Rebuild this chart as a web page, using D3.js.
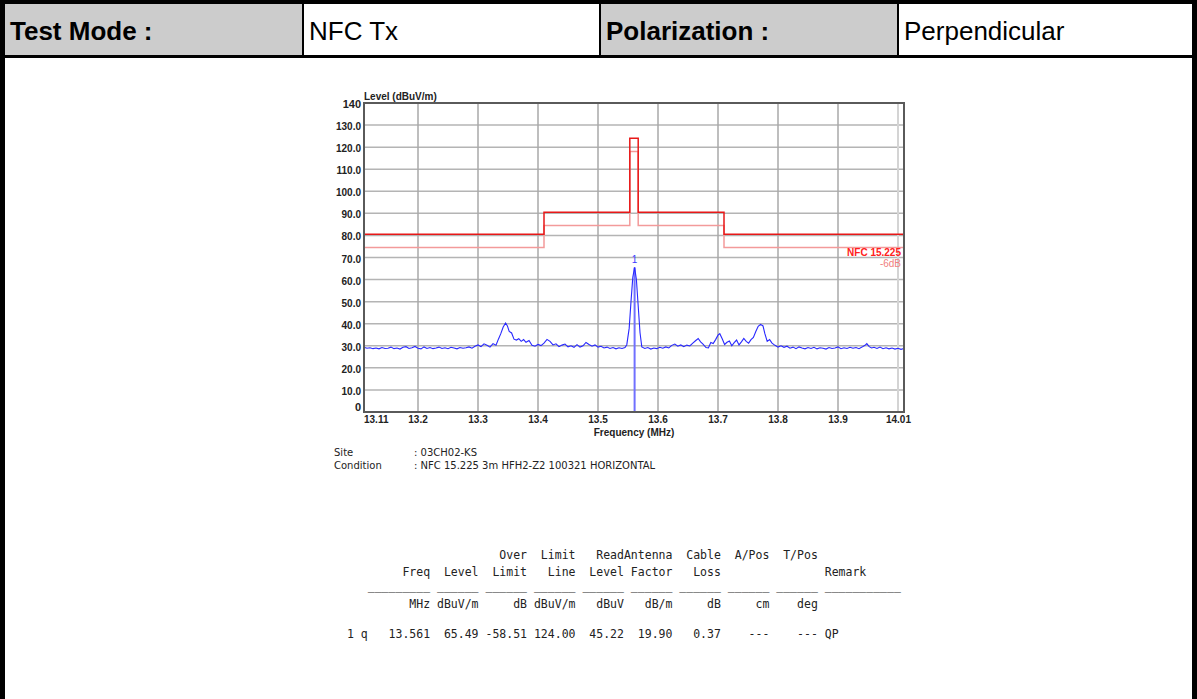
<!DOCTYPE html>
<html>
<head>
<meta charset="utf-8">
<script src="https://cdn.jsdelivr.net/npm/d3@7"></script>
<style>
  body { margin: 0; background: #fff; }
  svg { display: block; }
</style>
</head>
<body>
<div id="chart"></div>
<script>
//~~~~~~~~~~~~~~~~~~~~~~~~~~~~~~~~~~~~
// Data
//~~~~~~~~~~~~~~~~~~~~~~~~~~~~~~~~~~~~
const headerCells = ["Test Mode :", "NFC Tx", "Polarization :", "Perpendicular"];

const yTicks = [0, 10, 20, 30, 40, 50, 60, 70, 80, 90, 100, 110, 120, 130, 140];
const xTicks = [13.11, 13.2, 13.3, 13.4, 13.5, 13.6, 13.7, 13.8, 13.9, 14.01];
const xGrid = [13.2, 13.3, 13.4, 13.5, 13.6, 13.7, 13.8, 13.9, 14.0];

// NFC 15.225 limit (step after each breakpoint)
const limitFreqs = [13.11, 13.41, 13.553, 13.567, 13.71, 14.01];
const limitLevels = [80.5, 90.5, 124.0, 90.5, 80.5, 80.5];
const limit6dBLevels = [74.5, 84.5, 118.0, 84.5, 74.5, 74.5];

// measured trace [MHz, dBuV/m]
const trace = [
  [13.110, 29.3], [13.115, 28.9], [13.120, 29.1], [13.125, 28.7], [13.130, 29.0], [13.135, 28.6],
  [13.140, 29.2], [13.145, 28.8], [13.150, 28.9], [13.155, 29.4], [13.160, 28.7], [13.165, 29.0],
  [13.170, 28.5], [13.175, 29.3], [13.180, 29.6], [13.185, 28.8], [13.190, 29.1], [13.195, 29.7],
  [13.200, 28.9], [13.205, 28.6], [13.210, 29.5], [13.215, 28.8], [13.220, 29.2], [13.225, 28.7],
  [13.230, 29.0], [13.235, 29.4], [13.240, 28.8], [13.245, 29.1], [13.250, 28.7], [13.255, 29.3],
  [13.260, 29.0], [13.265, 28.6], [13.270, 29.2], [13.275, 28.9], [13.280, 29.1], [13.285, 29.5],
  [13.290, 28.9], [13.295, 29.8], [13.300, 30.4], [13.305, 29.6], [13.310, 30.9], [13.315, 30.2],
  [13.320, 29.4], [13.325, 31.0], [13.330, 30.3], [13.334, 33.0], [13.338, 35.5], [13.342, 38.5],
  [13.346, 40.3], [13.349, 39.0], [13.352, 36.5], [13.356, 35.8], [13.360, 33.0], [13.364, 32.6],
  [13.368, 33.2], [13.372, 32.0], [13.376, 32.8], [13.380, 31.6], [13.385, 32.4], [13.390, 30.2],
  [13.395, 29.8], [13.400, 30.6], [13.405, 30.1], [13.410, 31.2], [13.415, 32.9], [13.420, 32.0],
  [13.425, 30.4], [13.430, 30.9], [13.435, 29.6], [13.440, 30.3], [13.445, 30.8], [13.450, 29.5],
  [13.455, 30.0], [13.460, 29.3], [13.465, 30.5], [13.470, 29.4], [13.475, 30.0], [13.480, 31.5],
  [13.485, 30.6], [13.490, 29.8], [13.495, 30.4], [13.500, 29.4], [13.505, 29.8], [13.510, 29.0],
  [13.515, 29.4], [13.520, 28.8], [13.525, 29.2], [13.530, 28.6], [13.535, 29.1], [13.540, 28.8],
  [13.545, 29.2], [13.548, 30.5], [13.552, 38.0], [13.555, 50.0], [13.558, 61.0], [13.561, 65.49],
  [13.564, 60.0], [13.567, 48.0], [13.570, 36.0], [13.573, 29.5], [13.578, 28.8], [13.583, 29.2],
  [13.588, 28.5], [13.593, 29.0], [13.598, 28.7], [13.603, 29.3], [13.608, 28.9], [13.613, 29.5],
  [13.618, 29.0], [13.623, 30.2], [13.628, 30.8], [13.633, 29.8], [13.638, 30.4], [13.643, 29.6],
  [13.648, 30.3], [13.653, 29.9], [13.658, 31.2], [13.663, 32.4], [13.667, 33.3], [13.671, 31.8],
  [13.675, 30.8], [13.680, 29.2], [13.684, 29.0], [13.688, 31.5], [13.692, 31.0], [13.696, 32.8],
  [13.700, 34.8], [13.703, 35.5], [13.707, 33.2], [13.711, 30.6], [13.715, 31.6], [13.719, 32.2],
  [13.723, 30.0], [13.727, 31.4], [13.731, 32.6], [13.735, 30.4], [13.739, 31.8], [13.743, 33.3],
  [13.747, 32.0], [13.751, 31.2], [13.755, 32.8], [13.759, 33.8], [13.763, 36.5], [13.767, 38.8],
  [13.771, 39.7], [13.775, 39.0], [13.778, 35.6], [13.782, 32.0], [13.786, 32.8], [13.790, 31.2],
  [13.795, 30.2], [13.800, 29.4], [13.805, 30.0], [13.810, 29.3], [13.815, 29.8], [13.820, 28.9],
  [13.825, 29.4], [13.830, 28.7], [13.835, 29.5], [13.840, 29.0], [13.845, 28.6], [13.850, 29.2],
  [13.855, 28.8], [13.860, 29.3], [13.865, 28.6], [13.870, 29.1], [13.875, 28.9], [13.880, 28.5],
  [13.885, 29.2], [13.890, 28.8], [13.895, 29.0], [13.900, 29.5], [13.905, 28.7], [13.910, 29.1],
  [13.915, 28.8], [13.920, 29.3], [13.925, 28.9], [13.930, 29.2], [13.935, 28.7], [13.940, 29.4],
  [13.945, 30.2], [13.948, 31.0], [13.952, 29.6], [13.956, 29.0], [13.960, 29.3], [13.965, 28.8],
  [13.970, 29.4], [13.975, 28.7], [13.980, 29.1], [13.985, 28.6], [13.990, 29.0], [13.995, 28.5],
  [14.000, 28.9], [14.005, 28.4], [14.010, 28.8]
];

const markers = [{ id: "1", freq: 13.561, level: 65.49 }];

const siteLabels = ["Site", "Condition"];
const siteValues = [": 03CH02-KS", ": NFC 15.225 3m HFH2-Z2 100321 HORIZONTAL"];

const tableLines = [
  "                      Over  Limit   ReadAntenna  Cable  A/Pos  T/Pos",
  "        Freq  Level  Limit   Line  Level Factor   Loss               Remark",
  "   _________ ______ ______ ______ ______ ______ ______ ______ ______ ___________",
  "         MHz dBuV/m     dB dBuV/m   dBuV   dB/m     dB     cm    deg",
  "1 q   13.561  65.49 -58.51 124.00  45.22  19.90   0.37    ---    --- QP"
];

//~~~~~~~~~~~~~~~~~~~~~~~~~~~~~~~~~~~~
// Page frame + header
//~~~~~~~~~~~~~~~~~~~~~~~~~~~~~~~~~~~~
const W = 1197, H = 699;
const svg = d3.select("#chart").append("svg")
  .attr("width", W).attr("height", H)
  .style("font-family", "'Liberation Sans', Arial, sans-serif");

svg.append("rect").attr("width", W).attr("height", H).attr("fill", "#fff");

const cellX = [4, 303, 600, 898, 1193];
svg.append("g").selectAll("rect")
  .data(headerCells)
  .join("rect")
  .attr("x", (d, i) => cellX[i])
  .attr("y", 4)
  .attr("width", (d, i) => cellX[i + 1] - cellX[i])
  .attr("height", 53)
  .attr("fill", (d, i) => i % 2 === 0 ? "#cccccc" : "#ffffff");

svg.append("g").selectAll("text")
  .data(headerCells)
  .join("text")
  .attr("x", (d, i) => cellX[i] + 6)
  .attr("y", 40)
  .attr("font-size", 26)
  .attr("font-weight", (d, i) => i % 2 === 0 ? "bold" : "normal")
  .attr("fill", "#000")
  .text(d => d);

// borders
const borders = svg.append("g").attr("fill", "#000");
borders.append("rect").attr("x", 0).attr("y", 0).attr("width", W).attr("height", 4);
borders.append("rect").attr("x", 0).attr("y", 0).attr("width", 5).attr("height", H);
borders.append("rect").attr("x", 1192).attr("y", 0).attr("width", 5).attr("height", H);
borders.append("rect").attr("x", 0).attr("y", 55).attr("width", W).attr("height", 3);
borders.selectAll(".div")
  .data(cellX.slice(1, 4))
  .join("rect")
  .attr("x", d => d - 1).attr("y", 0).attr("width", 2).attr("height", 57);

//~~~~~~~~~~~~~~~~~~~~~~~~~~~~~~~~~~~~
// Chart
//~~~~~~~~~~~~~~~~~~~~~~~~~~~~~~~~~~~~
const x = d3.scaleLinear().domain([13.11, 14.01]).range([364, 904]);
const y = d3.scaleLinear().domain([0, 140]).range([412, 103]);

const chart = svg.append("g");

// grid
chart.append("g").selectAll("line")
  .data(yTicks.filter(d => d > 0 && d < 140))
  .join("line")
  .attr("x1", x(13.11)).attr("x2", x(14.01))
  .attr("y1", d => y(d)).attr("y2", d => y(d))
  .attr("stroke", "#b4b4b4").attr("stroke-width", 1.5);

chart.append("g").selectAll("line")
  .data(xGrid)
  .join("line")
  .attr("x1", d => x(d)).attr("x2", d => x(d))
  .attr("y1", y(0)).attr("y2", y(140))
  .attr("stroke", d => d === 14.0 ? "#d4d4d4" : "#a8a8a8")
  .attr("stroke-width", d => d === 14.0 ? 2 : 1.5);

// limit lines
const limitLine = d3.line()
  .x(d => x(d[0]))
  .y(d => y(d[1]))
  .curve(d3.curveStepAfter);

chart.append("path")
  .datum(limitFreqs.map((f, i) => [f, limit6dBLevels[i]]))
  .attr("d", limitLine)
  .attr("fill", "none")
  .attr("stroke", "#f39a9a")
  .attr("stroke-width", 1.5);

chart.append("path")
  .datum(limitFreqs.map((f, i) => [f, limitLevels[i]]))
  .attr("d", limitLine)
  .attr("fill", "none")
  .attr("stroke", "#e81818")
  .attr("stroke-width", 1.5);

// marker drop line
chart.append("g").selectAll("line")
  .data(markers)
  .join("line")
  .attr("x1", d => x(d.freq)).attr("x2", d => x(d.freq))
  .attr("y1", d => y(d.level)).attr("y2", y(0))
  .attr("stroke", "#7070ff").attr("stroke-width", 2);

// trace
chart.append("path")
  .datum(trace)
  .attr("d", d3.line().x(d => x(d[0])).y(d => y(d[1])))
  .attr("fill", "none")
  .attr("stroke", "#2828ff")
  .attr("stroke-width", 1.1);

chart.append("g").selectAll("text")
  .data(markers)
  .join("text")
  .attr("x", d => x(d.freq))
  .attr("y", d => y(d.level) - 4)
  .attr("text-anchor", "middle")
  .attr("font-size", 10)
  .attr("fill", "#3a3aff")
  .text(d => d.id);

// frame
chart.append("rect")
  .attr("x", x(13.11)).attr("y", y(140))
  .attr("width", x(14.01) - x(13.11))
  .attr("height", y(0) - y(140))
  .attr("fill", "none")
  .attr("stroke", "#5a5a5a")
  .attr("stroke-width", 2);

// y labels
chart.append("g").selectAll("text")
  .data(yTicks)
  .join("text")
  .attr("x", 361)
  .attr("y", d => d === 0 ? y(d) - 1 : y(d) + 5)
  .attr("text-anchor", "end")
  .attr("font-size", d => (d === 0 || d === 140) ? 11 : 10)
  .attr("font-weight", "bold")
  .attr("fill", "#222")
  .text(d => (d === 0 || d === 140) ? d : d.toFixed(1));

// x labels
chart.append("g").selectAll("text")
  .data(xTicks)
  .join("text")
  .attr("x", (d, i) => i === xTicks.length - 1 ? 911 : x(d))
  .attr("y", 423)
  .attr("text-anchor", (d, i) => i === 0 ? "start" : (i === xTicks.length - 1 ? "end" : "middle"))
  .attr("font-size", 10)
  .attr("font-weight", "bold")
  .attr("fill", "#222")
  .text(d => d);

chart.append("text")
  .attr("x", 364).attr("y", 100)
  .attr("font-size", 10).attr("font-weight", "bold").attr("fill", "#222")
  .text("Level (dBuV/m)");

chart.append("text")
  .attr("x", 634).attr("y", 436)
  .attr("text-anchor", "middle")
  .attr("font-size", 10).attr("font-weight", "bold").attr("fill", "#222")
  .text("Frequency (MHz)");

// legend
chart.append("text")
  .attr("x", 901).attr("y", 256)
  .attr("text-anchor", "end")
  .attr("font-size", 10).attr("font-weight", "bold").attr("fill", "#ff2020")
  .text("NFC 15.225");
chart.append("text")
  .attr("x", 901).attr("y", 267)
  .attr("text-anchor", "end")
  .attr("font-size", 10).attr("fill", "#f08080")
  .text("-6dB");

//~~~~~~~~~~~~~~~~~~~~~~~~~~~~~~~~~~~~
// Site / condition
//~~~~~~~~~~~~~~~~~~~~~~~~~~~~~~~~~~~~
const info = svg.append("g")
  .style("font-family", "'DejaVu Sans', sans-serif")
  .attr("font-size", 10)
  .attr("fill", "#222");

info.selectAll(".lbl")
  .data(siteLabels)
  .join("text")
  .attr("x", 334)
  .attr("y", (d, i) => 456 + i * 13)
  .text(d => d);

info.selectAll(".val")
  .data(siteValues)
  .join("text")
  .attr("x", 414)
  .attr("y", (d, i) => 456 + i * 13)
  .text(d => d);

//~~~~~~~~~~~~~~~~~~~~~~~~~~~~~~~~~~~~
// Result table
//~~~~~~~~~~~~~~~~~~~~~~~~~~~~~~~~~~~~
const rowY = [559, 576, 590, 608, 638];
svg.append("g")
  .style("font-family", "'DejaVu Sans Mono', monospace")
  .attr("font-size", 11.5)
  .attr("fill", "#222")
  .selectAll("text")
  .data(tableLines)
  .join("text")
  .attr("x", 347)
  .attr("y", (d, i) => rowY[i])
  .attr("xml:space", "preserve")
  .style("white-space", "pre")
  .text(d => d);
</script>
</body>
</html>
